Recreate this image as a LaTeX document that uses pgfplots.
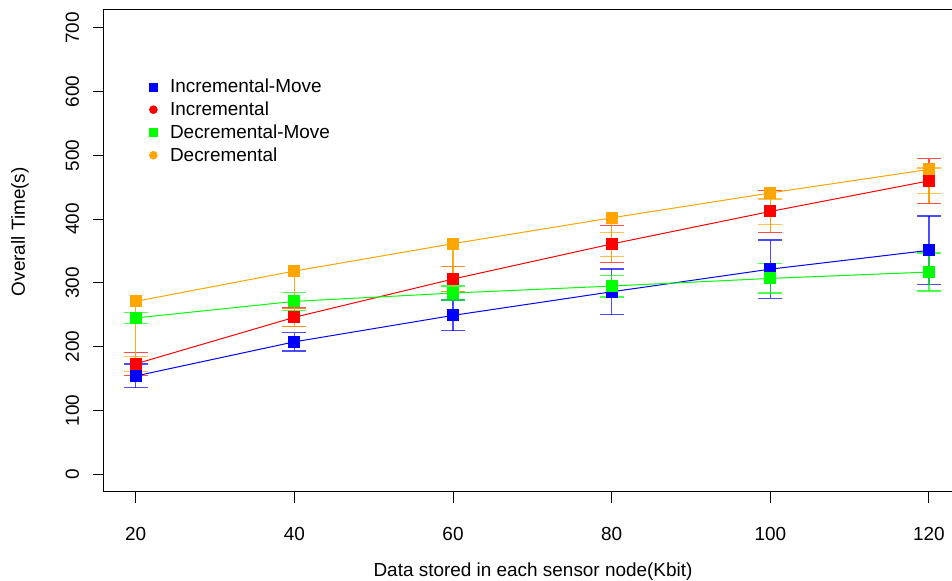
\documentclass[border=0pt]{standalone}
\usepackage{pgfplots}
\pgfplotsset{compat=1.18}
\usepackage{fontspec}
\setmainfont{Liberation Sans}
\definecolor{rblue}{RGB}{0,0,255}
\definecolor{rred}{RGB}{255,0,0}
\definecolor{rgreen}{RGB}{0,255,0}
\definecolor{rorange}{RGB}{255,165,0}
\begin{document}
\begin{tikzpicture}
\useasboundingbox (-78pt,-66.75pt) rectangle (636pt,369pt);
\clip (-78pt,-66.75pt) rectangle (636pt,369pt);
\begin{axis}[
  clip=false,
  scale only axis, width=642.5pt, height=361.5pt,
  xmin=16, xmax=124, ymin=-28, ymax=728,
  xtick={20,40,...,120}, ytick={0,100,...,700},
  tick align=outside, xtick pos=bottom, ytick pos=left,
  major tick length=8.25pt,
  tick style={black, line width=0.75pt},
  axis line style={line width=0.75pt},
  font=\fontsize{14.2}{17}\selectfont,
  /pgf/number format/assume math mode=true,
  ticklabel style={font=\fontsize{14.2}{17}\selectfont},
  yticklabel style={rotate=90, anchor=south},
  xticklabel shift=15pt,
  yticklabel shift=7pt,
  legend style={draw=none, fill=none, at={(0.048,0.867)}, anchor=north west,
    font=\fontsize{14.2}{17}\selectfont, row sep=2.3pt, column sep=8pt,
    nodes={inner sep=1.5pt}},
  legend cell align=left,
]
\addlegendimage{only marks, mark=square*, rblue, mark size=3pt}
\addlegendentry{Incremental-Move}
\addlegendimage{only marks, mark=*, rred, mark size=3pt}
\addlegendentry{Incremental}
\addlegendimage{only marks, mark=square*, rgreen, mark size=3pt}
\addlegendentry{Decremental-Move}
\addlegendimage{only marks, mark=*, rorange, mark size=3pt}
\addlegendentry{Decremental}

% Incremental-Move
\addplot[forget plot, rblue, line width=0.75pt, mark=square*, mark size=4.1pt,
  error bars/.cd, y dir=both, y explicit,
  error bar style={rblue, opacity=0.7, line width=1pt},
  error mark options={rblue, opacity=0.7, rotate=90, mark size=9pt, line width=1pt}]
coordinates {
(20,154) +- (0,18.5)
(40,207.5) +- (0,14.5)
(60,249) +- (0,24)
(80,286) +- (0,36)
(100,321.5) +- (0,45.5)
(120,351) +- (0,54)
};
% Incremental
\addplot[forget plot, rred, line width=0.75pt, mark=square*, mark size=4.1pt,
  error bars/.cd, y dir=both, y explicit,
  error bar style={rred, opacity=0.7, line width=1pt},
  error mark options={rred, opacity=0.7, rotate=90, mark size=9pt, line width=1pt}]
coordinates {
(20,173) +- (0,18)
(40,246) +- (0,14.5)
(60,306) +- (0,20)
(80,361) +- (0,29)
(100,412) +- (0,32.5)
(120,460) +- (0,35)
};
% Decremental-Move
\addplot[forget plot, rgreen, line width=0.75pt, mark=square*, mark size=4.1pt,
  error bars/.cd, y dir=both, y explicit,
  error bar style={rgreen, opacity=0.7, line width=1pt},
  error mark options={rgreen, opacity=0.7, rotate=90, mark size=9pt, line width=1pt}]
coordinates {
(20,245) +- (0,9)
(40,271) +- (0,14)
(60,284) +- (0,11)
(80,295) +- (0,17)
(100,307) +- (0,23)
(120,317) +- (0,30)
};
% Decremental: caps
\addplot[forget plot, draw=none, mark=none,
  error bars/.cd, y dir=both, y explicit,
  error bar style={rorange, opacity=0.7, line width=1pt},
  error mark options={rorange, opacity=0.7, rotate=90, mark size=9pt, line width=1pt}]
coordinates {
(20,173) +- (0,11.5)
(40,246) +- (0,14)
(60,306) +- (0,20)
(80,360) +- (0,19)
(100,411.6) +- (0,20)
(120,460) +- (0,20)
};
% Decremental: line, stems, marks
\addplot[forget plot, rorange, line width=0.75pt, mark=square*, mark size=4.1pt,
  error bars/.cd, y dir=both, y explicit, error mark=none,
  error bar style={rorange, opacity=0.9, line width=1.1pt}]
coordinates {
(20,271) += (0,0) -= (0,116)
(40,318.5) += (0,0) -= (0,87)
(60,361.5) += (0,0) -= (0,75.5)
(80,402) += (0,0) -= (0,70)
(100,441) += (0,0) -= (0,61.5)
(120,478) += (0,0) -= (0,53)
};
\node[rotate=90, font=\fontsize{14.2}{17}\selectfont] at (axis description cs:-0.098,0.54) {Overall Time(s)};
\node[font=\fontsize{14.2}{17}\selectfont] at (axis description cs:0.5008,-0.165) {Data stored in each sensor node(Kbit)};
\end{axis}
\end{tikzpicture}
\end{document}
